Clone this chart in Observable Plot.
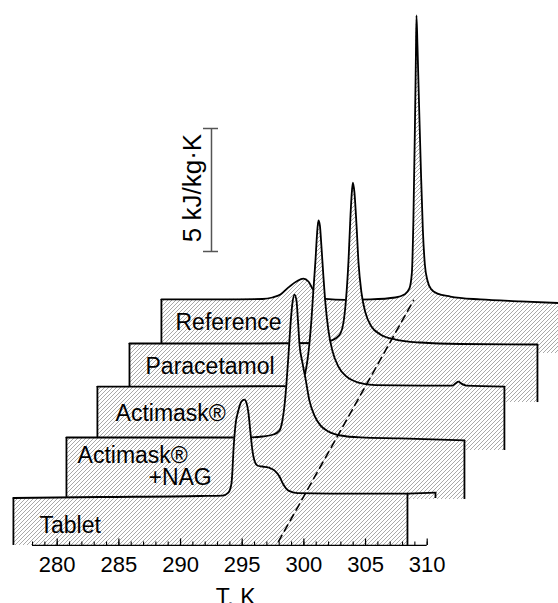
<!DOCTYPE html>
<html><head><meta charset="utf-8">
<script src="https://cdn.jsdelivr.net/npm/d3@7"></script>
<script src="https://cdn.jsdelivr.net/npm/@observablehq/plot@0.6"></script>
<style>html,body{margin:0;padding:0;background:#fff;overflow:hidden}</style>
</head><body><div id="chart"></div>
<script>
// Series, back to front. Each curve: local temperature (K) and specific heat (kJ/kg·K above its own baseline)
const seriesNames = ["Reference", "Paracetamol", "Actimask®", "Actimask® +NAG", "Tablet"];

const referenceT  = [276.45,281.23,284.64,285.45,286.10,286.75,287.40,287.96,288.37,288.69,289.10,289.75,291.37,293.40,295.42,296.15,296.56,296.76,296.88,297.00,297.08,297.13,297.21,297.33,297.49,297.65,297.81,298.02,298.34,298.83,299.88,302.31,305.56,309.45];
const referenceCp = [0,0,0.02,0.08,0.20,0.49,0.73,0.85,0.73,0.45,0.16,0.02,-0.02,0,0.08,0.20,0.45,1.10,3.21,6.87,9.72,11.55,10.33,8.09,5.24,2.80,1.42,0.77,0.41,0.24,0.12,0,-0.08,-0.16];

const paracetamolT  = [276.45,286.26,291.94,292.58,293.15,293.56,293.80,294.00,294.21,294.37,294.49,294.57,294.69,294.86,295.02,295.26,295.58,296.07,296.80,298.02,300.04,303.29,309.53];
const paracetamolCp = [0,0,0.02,0.08,0.20,0.41,0.85,1.75,3.37,5.20,6.22,6.54,6.14,4.80,3.29,2.07,1.26,0.69,0.37,0.16,0.04,-0.02,-0.04];

const actimaskT  = [276.45,284.80,292.10,292.75,293.07,293.31,293.48,293.64,293.80,293.96,294.13,294.25,294.37,294.49,294.61,294.77,294.94,295.18,295.50,295.99,296.64,297.61,298.99,302.64,305.23,305.48,305.72,305.96,306.37,309.45];
const actimaskCp = [0,0,0.02,0.08,0.24,0.57,1.06,1.75,2.68,3.90,5.12,6.14,6.75,6.54,5.73,4.51,3.37,2.28,1.46,0.81,0.41,0.16,0.06,0.04,0.04,0.12,0.20,0.12,0.04,0];

const nagT  = [276.45,283.26,290.96,292.34,293.23,293.72,293.96,294.13,294.29,294.45,294.61,294.77,294.94,295.10,295.22,295.34,295.58,295.83,296.15,296.56,297.04,297.69,298.67,300.29,303.53,308.72];
const nagCp = [0,0,0,0.04,0.12,0.28,0.69,1.30,2.20,3.33,4.55,5.45,5.81,5.57,4.76,3.82,3.05,2.40,1.50,0.89,0.49,0.24,0.08,0,-0.04,-0.12];

const tabletT  = [276.45,283.50,291.61,293.40,293.88,294.13,294.21,294.29,294.45,294.69,294.94,295.18,295.34,295.50,295.67,295.83,295.99,296.23,296.64,297.13,297.61,298.02,298.34,298.75,299.48,302.15,308.40];
const tabletCp = [-0.02,0.02,0.06,0.08,0.20,0.57,1.10,1.91,2.93,3.54,3.90,3.98,3.86,3.46,2.64,1.91,1.50,1.30,1.26,1.22,1.10,0.85,0.53,0.28,0.18,0.16,0.16];
const tabletTailT  = [308.40, 310.67];
const tabletTailCp = [0.16, 0.20];

// pseudo-3D layout of the waterfall (offsets of each trace, depth of each panel)
const panelShiftT  = [12.0, 9.41, 6.81, 4.30, 0];
const panelShiftCp = [8.05, 6.26, 4.51, 2.44, 0];
const panelBottom  = [-2.20, -2.40, -2.60, -2.52, -1.95];
const tabletTailBottom = -0.04;

// guide line through the reference peak
const guideT  = [297.94, 308.89];
const guideCp = [-1.79, 8.01];

// scale bar
const scaleBarLabel = "5 kJ/kg·K";
const scaleBarCp = [10, 15];
const scaleBarT = 292.51;

// axis
const majorTicks = [280, 285, 290, 295, 300, 305, 310];
const minorTicks = d3.range(278, 311, 1);
const axisCp = -1.95;
const axisLabel = "T, K";

// series labels (apparent position in the chart frame)
const labelText = ["Reference", "Paracetamol", "Actimask®", "Actimask®", "+NAG", "Tablet"];
const labelT    = [289.59, 287.16, 284.73, 281.65, 287.40, 278.56];
const labelCp   = [6.79, 5.04, 3.09, 1.42, 0.49, -1.46];

const curvesT  = [referenceT, paracetamolT, actimaskT, nagT, tabletT];
const curvesCp = [referenceCp, paracetamolCp, actimaskCp, nagCp, tabletCp];

const PX_PER_CP = 24.6;
const marks = [];
const lineStyle = {stroke: "#000", strokeWidth: 1.8};

curvesT.forEach((ts, i) => {
  const sT = panelShiftT[i], sC = panelShiftCp[i];
  const bottom = panelBottom[i] + sC;
  const pts = ts.map((t, j) => ({T: t + sT, cp: curvesCp[i][j] + sC}));
  marks.push(Plot.areaY(pts, {x: "T", y1: bottom, y2: "cp", fill: "url(#hatch)", curve: "monotone-x"}));
  marks.push(Plot.line(pts, {x: "T", y: "cp", curve: "monotone-x", ...lineStyle}));
  marks.push(Plot.ruleX([pts[0], pts[pts.length - 1]], {x: "T", y1: bottom, y2: "cp", ...lineStyle}));
  if (i === curvesT.length - 1) {
    const tail = tabletTailT.map((t, j) => ({T: t, cp: tabletTailCp[j]}));
    marks.push(Plot.line(tail, {x: "T", y: "cp", ...lineStyle}));
    marks.push(Plot.ruleX([tail[1]], {x: "T", y1: tabletTailBottom, y2: "cp", ...lineStyle}));
  }
});

// guide dashed line
marks.push(Plot.line(guideT.map((t, i) => ({T: t, cp: guideCp[i]})),
  {x: "T", y: "cp", stroke: "#000", strokeWidth: 1.6, strokeDasharray: "7,5"}));

// scale bar
const capHalf = 0.61;
marks.push(Plot.ruleX([scaleBarT], {x: d => d, y1: scaleBarCp[0], y2: scaleBarCp[1], stroke: "#555", strokeWidth: 1.5}));
marks.push(Plot.ruleY(scaleBarCp, {y: d => d, x1: scaleBarT - capHalf - 0.04, x2: scaleBarT + capHalf - 0.04, stroke: "#555", strokeWidth: 1.5}));
marks.push(Plot.text([scaleBarLabel], {x: scaleBarT - 1.55, y: (scaleBarCp[0] + scaleBarCp[1]) / 2 + 0.08, text: d => d,
  rotate: -90, fontSize: 26, textAnchor: "middle", lineAnchor: "middle", fill: "#000"}));

// x axis
marks.push(Plot.ruleY([axisCp], {y: d => d, x1: 278, x2: 310, stroke: "#000", strokeWidth: 1.3}));
marks.push(Plot.ruleX(minorTicks, {x: d => d, y1: axisCp, y2: axisCp + 3.5 / PX_PER_CP, stroke: "#000", strokeWidth: 1.1}));
marks.push(Plot.ruleX(majorTicks, {x: d => d, y1: axisCp, y2: axisCp + 6.5 / PX_PER_CP, stroke: "#000", strokeWidth: 1.2}));
marks.push(Plot.axisX({anchor: "bottom", ticks: majorTicks, tickFormat: d => String(d), tickSize: 0, tickPadding: 11, fontSize: 22, label: null, fill: "#000"}));
marks.push(Plot.text([axisLabel], {x: 294.47, y: -4.35, text: d => d, fontSize: 23, textAnchor: "middle", lineAnchor: "bottom", fill: "#000"}));

// series labels
marks.push(Plot.text(labelText.map((s, i) => ({s, T: labelT[i], cp: labelCp[i]})),
  {x: "T", y: "cp", text: "s", fontSize: 23, textAnchor: "start", lineAnchor: "bottom", fill: "#000"}));

const svg = Plot.plot({
  width: 558, height: 603,
  marginTop: 0, marginRight: 0, marginLeft: 0, marginBottom: 58,
  style: {fontFamily: "'Liberation Sans', Arial, sans-serif", background: "#fff", overflow: "visible"},
  x: {domain: [280, 310], range: [56.7, 426.7]},
  y: {domain: [0, 5], range: [497, 497 - 5 * PX_PER_CP], axis: null},
  marks
});

const ns = "http://www.w3.org/2000/svg";
const defs = document.createElementNS(ns, "defs");
defs.innerHTML = `<pattern id="hatch" patternUnits="userSpaceOnUse" width="4" height="4">
  <rect width="4" height="4" fill="#fff"/>
  <path d="M-1,1 L1,-1 M0,4 L4,0 M3,5 L5,3" stroke="#7a7a7a" stroke-width="0.65"/>
</pattern>`;
svg.insertBefore(defs, svg.firstChild);
document.getElementById("chart").appendChild(svg);
</script>
</body></html>
